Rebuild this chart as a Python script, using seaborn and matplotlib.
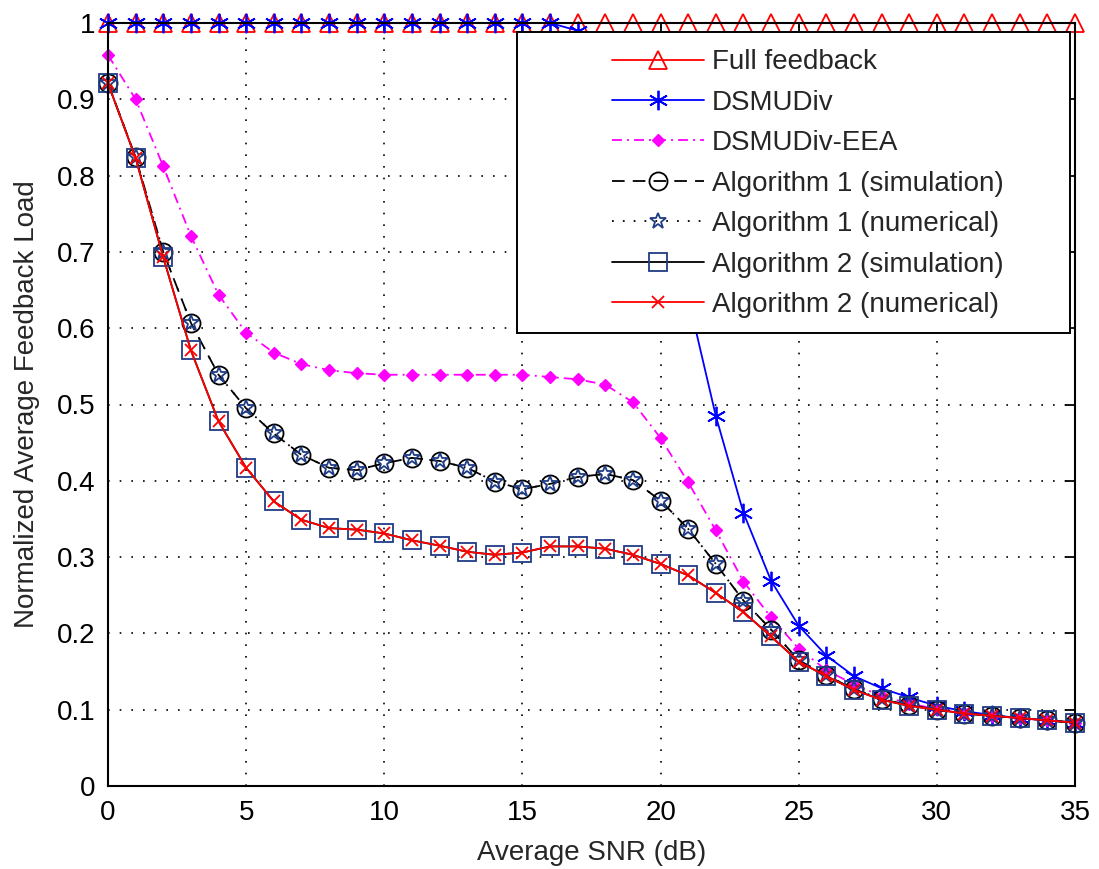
import numpy as np
import pandas as pd
import seaborn as sns
import matplotlib.pyplot as plt
from matplotlib.patches import Rectangle

snr = [0, 1, 2, 3, 4, 5, 6, 7, 8, 9, 10, 11, 12, 13, 14, 15, 16, 17,
       18, 19, 20, 21, 22, 23, 24, 25, 26, 27, 28, 29, 30, 31, 32, 33, 34, 35]

full_feedback = [1.0, 1.0, 1.0, 1.0, 1.0, 1.0, 1.0, 1.0, 1.0, 1.0, 1.0, 1.0,
                 1.0, 1.0, 1.0, 1.0, 1.0, 1.0, 1.0, 1.0, 1.0, 1.0, 1.0, 1.0,
                 1.0, 1.0, 1.0, 1.0, 1.0, 1.0, 1.0, 1.0, 1.0, 1.0, 1.0, 1.0]

dsmudiv = [1.0, 1.0, 1.0, 1.0, 1.0, 1.0, 1.0, 1.0, 1.0, 1.0, 1.0, 1.0,
           1.0, 1.0, 1.0, 1.0, 1.0, 0.99, 0.96, 0.89, 0.78, 0.64, 0.485, 0.358,
           0.269, 0.210, 0.171, 0.144, 0.128, 0.116, 0.105, 0.098, 0.093, 0.089, 0.086, 0.083]

dsmudiv_eea = [0.958, 0.900, 0.812, 0.721, 0.644, 0.594, 0.568, 0.553, 0.545, 0.541, 0.539, 0.539,
               0.539, 0.539, 0.539, 0.539, 0.536, 0.533, 0.526, 0.503, 0.456, 0.398, 0.335, 0.268,
               0.221, 0.180, 0.152, 0.133, 0.118, 0.108, 0.101, 0.096, 0.092, 0.089, 0.086, 0.083]

alg1_sim = [0.921, 0.824, 0.700, 0.607, 0.539, 0.495, 0.462, 0.434, 0.417, 0.414, 0.423, 0.430,
            0.426, 0.417, 0.399, 0.389, 0.396, 0.405, 0.409, 0.401, 0.374, 0.337, 0.291, 0.243,
            0.205, 0.165, 0.145, 0.127, 0.114, 0.106, 0.100, 0.095, 0.092, 0.089, 0.086, 0.083]

alg1_num = [0.921, 0.824, 0.700, 0.607, 0.539, 0.495, 0.462, 0.434, 0.417, 0.414, 0.423, 0.430,
            0.426, 0.417, 0.399, 0.389, 0.396, 0.405, 0.409, 0.401, 0.374, 0.337, 0.291, 0.243,
            0.205, 0.165, 0.145, 0.127, 0.114, 0.106, 0.100, 0.095, 0.092, 0.089, 0.086, 0.083]

alg2_sim = [0.921, 0.823, 0.693, 0.571, 0.478, 0.417, 0.373, 0.349, 0.338, 0.336, 0.331, 0.322,
            0.315, 0.307, 0.303, 0.306, 0.314, 0.314, 0.311, 0.303, 0.291, 0.276, 0.253, 0.228,
            0.196, 0.163, 0.144, 0.126, 0.113, 0.105, 0.100, 0.095, 0.092, 0.089, 0.086, 0.083]

alg2_num = [0.921, 0.823, 0.693, 0.571, 0.478, 0.417, 0.373, 0.349, 0.338, 0.336, 0.331, 0.322,
            0.315, 0.307, 0.303, 0.306, 0.314, 0.314, 0.311, 0.303, 0.291, 0.276, 0.253, 0.228,
            0.196, 0.163, 0.144, 0.126, 0.113, 0.105, 0.100, 0.095, 0.092, 0.089, 0.086, 0.083]

x_ticks = [0, 5, 10, 15, 20, 25, 30, 35]
y_ticks = [0, 0.1, 0.2, 0.3, 0.4, 0.5, 0.6, 0.7, 0.8, 0.9, 1.0]
y_tick_labels = ['0', '0.1', '0.2', '0.3', '0.4', '0.5', '0.6', '0.7', '0.8', '0.9', '1']

sns.set_style('white')
plt.rcParams['font.family'] = ['Liberation Sans', 'DejaVu Sans']

navy = '#1f3c86'
fs = 20

fig = plt.figure(figsize=(10.99, 8.69), dpi=100)
ax = fig.add_axes([108 / 1099, 1 - 786 / 869, 967 / 1099, 763 / 869])

common = dict(linewidth=1.3, clip_on=False, legend=False, ax=ax)

sns.lineplot(x=snr, y=full_feedback, color='red', marker='^', markersize=13,
             markerfacecolor='none', markeredgecolor='red', markeredgewidth=1.3,
             label='Full feedback', **common)
sns.lineplot(x=snr, y=dsmudiv, color='blue', marker=(6, 2, 0), markersize=14,
             markeredgecolor='blue', markeredgewidth=1.3,
             label='DSMUDiv', **common)
sns.lineplot(x=snr, y=dsmudiv_eea, color='magenta', linestyle=(0, (5.5, 2.8, 1.1, 2.8)),
             marker='D', markersize=6, markerfacecolor='magenta', markeredgecolor='magenta',
             markeredgewidth=1, label='DSMUDiv-EEA', **common)
sns.lineplot(x=snr, y=alg1_sim, color='black', linestyle=(0, (7, 4.5)),
             marker='o', markersize=13, markerfacecolor='none', markeredgecolor='black',
             markeredgewidth=1.3, label='Algorithm 1 (simulation)', **common)
sns.lineplot(x=snr, y=alg1_num, color='black', linestyle=(0, (1, 5)),
             marker='*', markersize=12, markerfacecolor='none', markeredgecolor=navy,
             markeredgewidth=1.3, label='Algorithm 1 (numerical)', **common)
sns.lineplot(x=snr, y=alg2_sim, color='black',
             marker='s', markersize=13.5, markerfacecolor='none', markeredgecolor=navy,
             markeredgewidth=1.3, label='Algorithm 2 (simulation)', **common)
sns.lineplot(x=snr, y=alg2_num, color='red',
             marker='x', markersize=9, markeredgecolor='red',
             markeredgewidth=1.3, label='Algorithm 2 (numerical)', **common)

ax.set_xlim(0, 35)
ax.set_ylim(0, 1)
ax.set_xticks(x_ticks)
ax.set_xticklabels([str(t) for t in x_ticks])
ax.set_yticks(y_ticks)
ax.set_yticklabels(y_tick_labels)
ax.tick_params(direction='in', length=7, width=1.3, labelsize=fs, colors='black',
               top=True, right=True)
ax.tick_params(axis='x', pad=10)
ax.tick_params(axis='y', pad=9)
ax.grid(True, color='black', linestyle=(0, (1, 6)), linewidth=1.2)
for s in ax.spines.values():
    s.set_visible(True)
    s.set_color('black')
    s.set_linewidth(1.5)

ax.set_xlabel('Average SNR (dB)', fontsize=fs, labelpad=10)
ax.set_ylabel('Normalized Average Feedback Load', fontsize=fs, labelpad=12)

# legend box drawn like the MATLAB one
x0 = (517 - 108) / 967
x1 = (1070 - 108) / 967
y1 = (786 - 32) / 763
y0 = (786 - 333) / 763
ax.add_patch(Rectangle((x0, y0), x1 - x0, y1 - y0, transform=ax.transAxes,
                       facecolor='white', edgecolor='black', linewidth=1.4,
                       zorder=4, clip_on=False))

handles, labels = ax.get_legend_handles_labels()
leg = ax.legend(handles, labels, loc='upper left',
                bbox_to_anchor=((612 - 108) / 967, 0.9655), frameon=False,
                fontsize=fs, handlelength=3.3, handletextpad=0.3,
                labelspacing=0.52, borderpad=0, borderaxespad=0)
leg.set_zorder(5)

fig.savefig('out.png', dpi=100)
